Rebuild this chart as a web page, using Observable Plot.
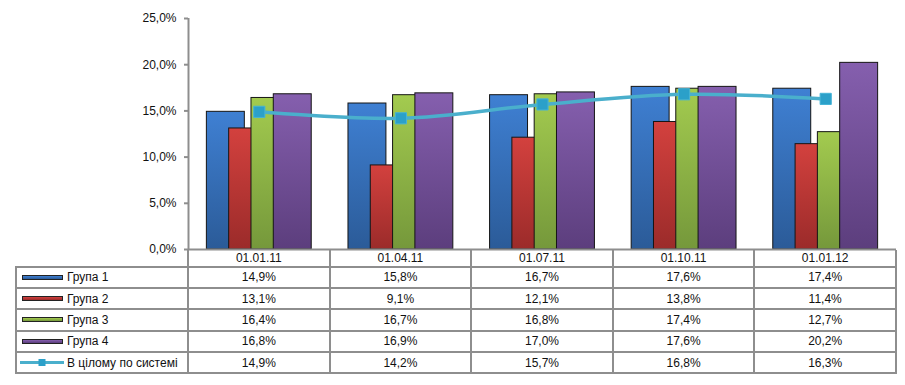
<!DOCTYPE html>
<html><head><meta charset="utf-8">
<script src="https://cdn.jsdelivr.net/npm/d3@7"></script>
<script src="https://cdn.jsdelivr.net/npm/@observablehq/plot@0.6"></script>
<style>
html,body{margin:0;padding:0;background:#fff;}
#wrap{position:relative;width:905px;height:385px;font-family:"Liberation Sans",Arial,sans-serif;font-size:12px;color:#111;}
#chart{height:251px;}
#chart svg{display:block;overflow:visible;}
#table{position:absolute;top:250px;display:grid;}
.cell{box-sizing:border-box;border-right:2px solid #8e8e8e;border-bottom:2px solid #8e8e8e;display:flex;align-items:center;justify-content:center;white-space:nowrap;line-height:1;}
.cell.first{border-left:2px solid #8e8e8e;justify-content:flex-start;padding-left:4px;}
.cell.corner{border-left:none;}
.sw{width:41px;height:5px;box-sizing:border-box;border:1px solid #222;margin-right:4px;}
</style></head><body><div id="wrap"><div id="chart"></div><div id="table"></div></div>
<script>
const categories = ["01.01.11", "01.04.11", "01.07.11", "01.10.11", "01.01.12"];
const group1 = [14.9, 15.8, 16.7, 17.6, 17.4];
const group2 = [13.1, 9.1, 12.1, 13.8, 11.4];
const group3 = [16.4, 16.7, 16.8, 17.4, 12.7];
const group4 = [16.8, 16.9, 17.0, 17.6, 20.2];
const total = [14.9, 14.2, 15.7, 16.8, 16.3];
const seriesNames = ["Група 1", "Група 2", "Група 3", "Група 4"];
const totalName = "В цілому по системі";
const yTicks = [0, 5, 10, 15, 20, 25];

const seriesValues = [group1, group2, group3, group4];
const colorsTop = ["#3f80d3", "#d3413e", "#a3cb4f", "#855fae"];
const colorsBottom = ["#2b5b98", "#9b2b2a", "#75983b", "#5c3e7d"];
const lineColor = "#4aafcc";
const markerColor = "#2ba0c9";
const borderColor = "#8e8e8e";

const fmt = v => v.toFixed(1).replace(".", ",") + "%";
const step = 0.1575, half = 0.134;

const barMarks = seriesValues.map((vals, j) => Plot.rectY(vals.map((v, i) => ({i, v})), {
  x1: d => d.i + 0.5 + (j - 1.5) * step - half,
  x2: d => d.i + 0.5 + (j - 1.5) * step + half,
  y: "v",
  fill: `url(#grad${j})`,
  stroke: "#151515",
  strokeWidth: 1
}));
const lineData = total.map((v, i) => ({i, v}));

const plot = Plot.plot({
  width: 905, height: 251,
  marginTop: 18, marginBottom: 2, marginLeft: 188, marginRight: 9,
  style: {fontFamily: "'Liberation Sans', Arial, sans-serif", fontSize: "12px", background: "white", color: "#111", overflow: "visible"},
  x: {domain: [0, categories.length], axis: null},
  y: {domain: [0, 25]},
  marks: [
    ...barMarks,
    Plot.line(lineData, {x: d => d.i + 0.5, y: "v", curve: "catmull-rom", stroke: lineColor, strokeWidth: 3.5}),
    Plot.dot(lineData, {x: d => d.i + 0.5, y: "v", symbol: "square", r: 6.3, fill: markerColor, stroke: "#45b3d6", strokeWidth: 1}),
    Plot.ruleX([0], {y1: 0, y2: 25, stroke: borderColor, strokeWidth: 2}),
    Plot.ruleY([0], {stroke: borderColor, strokeWidth: 2}),
    Plot.axisY({ticks: yTicks, tickSize: 4, tickPadding: 8, tickFormat: fmt, stroke: borderColor, strokeWidth: 2, fill: "#111", fontSize: 12, label: null})
  ]
});
document.getElementById("chart").appendChild(plot);

const defs = d3.select(plot).insert("defs", ":first-child");
colorsTop.forEach((c, j) => {
  const g = defs.append("linearGradient").attr("id", "grad" + j)
    .attr("x1", 0).attr("y1", 0).attr("x2", 0).attr("y2", 1);
  g.append("stop").attr("offset", "0%").attr("stop-color", c);
  g.append("stop").attr("offset", "100%").attr("stop-color", colorsBottom[j]);
});

// data table aligned to the plot's x scale
const xs = plot.scale("x");
const bounds = d3.range(categories.length + 1).map(i => xs.apply(i));
const tableLeft = 15;
const table = document.getElementById("table");
table.style.left = tableLeft + "px";
const colW = [bounds[0] + 1 - tableLeft].concat(d3.range(categories.length).map(i => bounds[i + 1] - bounds[i]));
table.style.gridTemplateColumns = colW.map(w => w + "px").join(" ");
table.style.gridTemplateRows = "17.5px " + d3.range(seriesNames.length + 1).map(() => "21.4px").join(" ");

function cell(cls, html) {
  const d = document.createElement("div");
  d.className = "cell " + cls;
  if (typeof html === "string") d.textContent = html; else if (html) d.appendChild(html);
  table.appendChild(d);
  return d;
}
cell("first corner", "");
categories.forEach(c => cell("", c));
seriesNames.forEach((name, j) => {
  const f = document.createElement("div");
  f.style.display = "flex"; f.style.alignItems = "center";
  const sw = document.createElement("div");
  sw.className = "sw";
  sw.style.background = `linear-gradient(${colorsTop[j]}, ${colorsBottom[j]})`;
  f.appendChild(sw);
  const t = document.createElement("span"); t.textContent = name; f.appendChild(t);
  const c = cell("first", f);
  c.style.paddingLeft = "5px";
  seriesValues[j].forEach(v => cell("", fmt(v)));
});
{
  const f = document.createElement("div");
  f.style.display = "flex"; f.style.alignItems = "center";
  const s = d3.create("svg").attr("width", 44).attr("height", 9).style("margin-right", "3px").style("display", "block");
  s.append("line").attr("x1", 0).attr("x2", 44).attr("y1", 4.5).attr("y2", 4.5).attr("stroke", lineColor).attr("stroke-width", 3);
  s.append("rect").attr("x", 18.5).attr("y", 1).attr("width", 7).attr("height", 7).attr("fill", markerColor);
  f.appendChild(s.node());
  const t = document.createElement("span"); t.textContent = totalName; f.appendChild(t);
  const c = cell("first", f);
  c.style.paddingLeft = "3px";
  total.forEach(v => cell("", fmt(v)));
}
</script>
</body></html>
